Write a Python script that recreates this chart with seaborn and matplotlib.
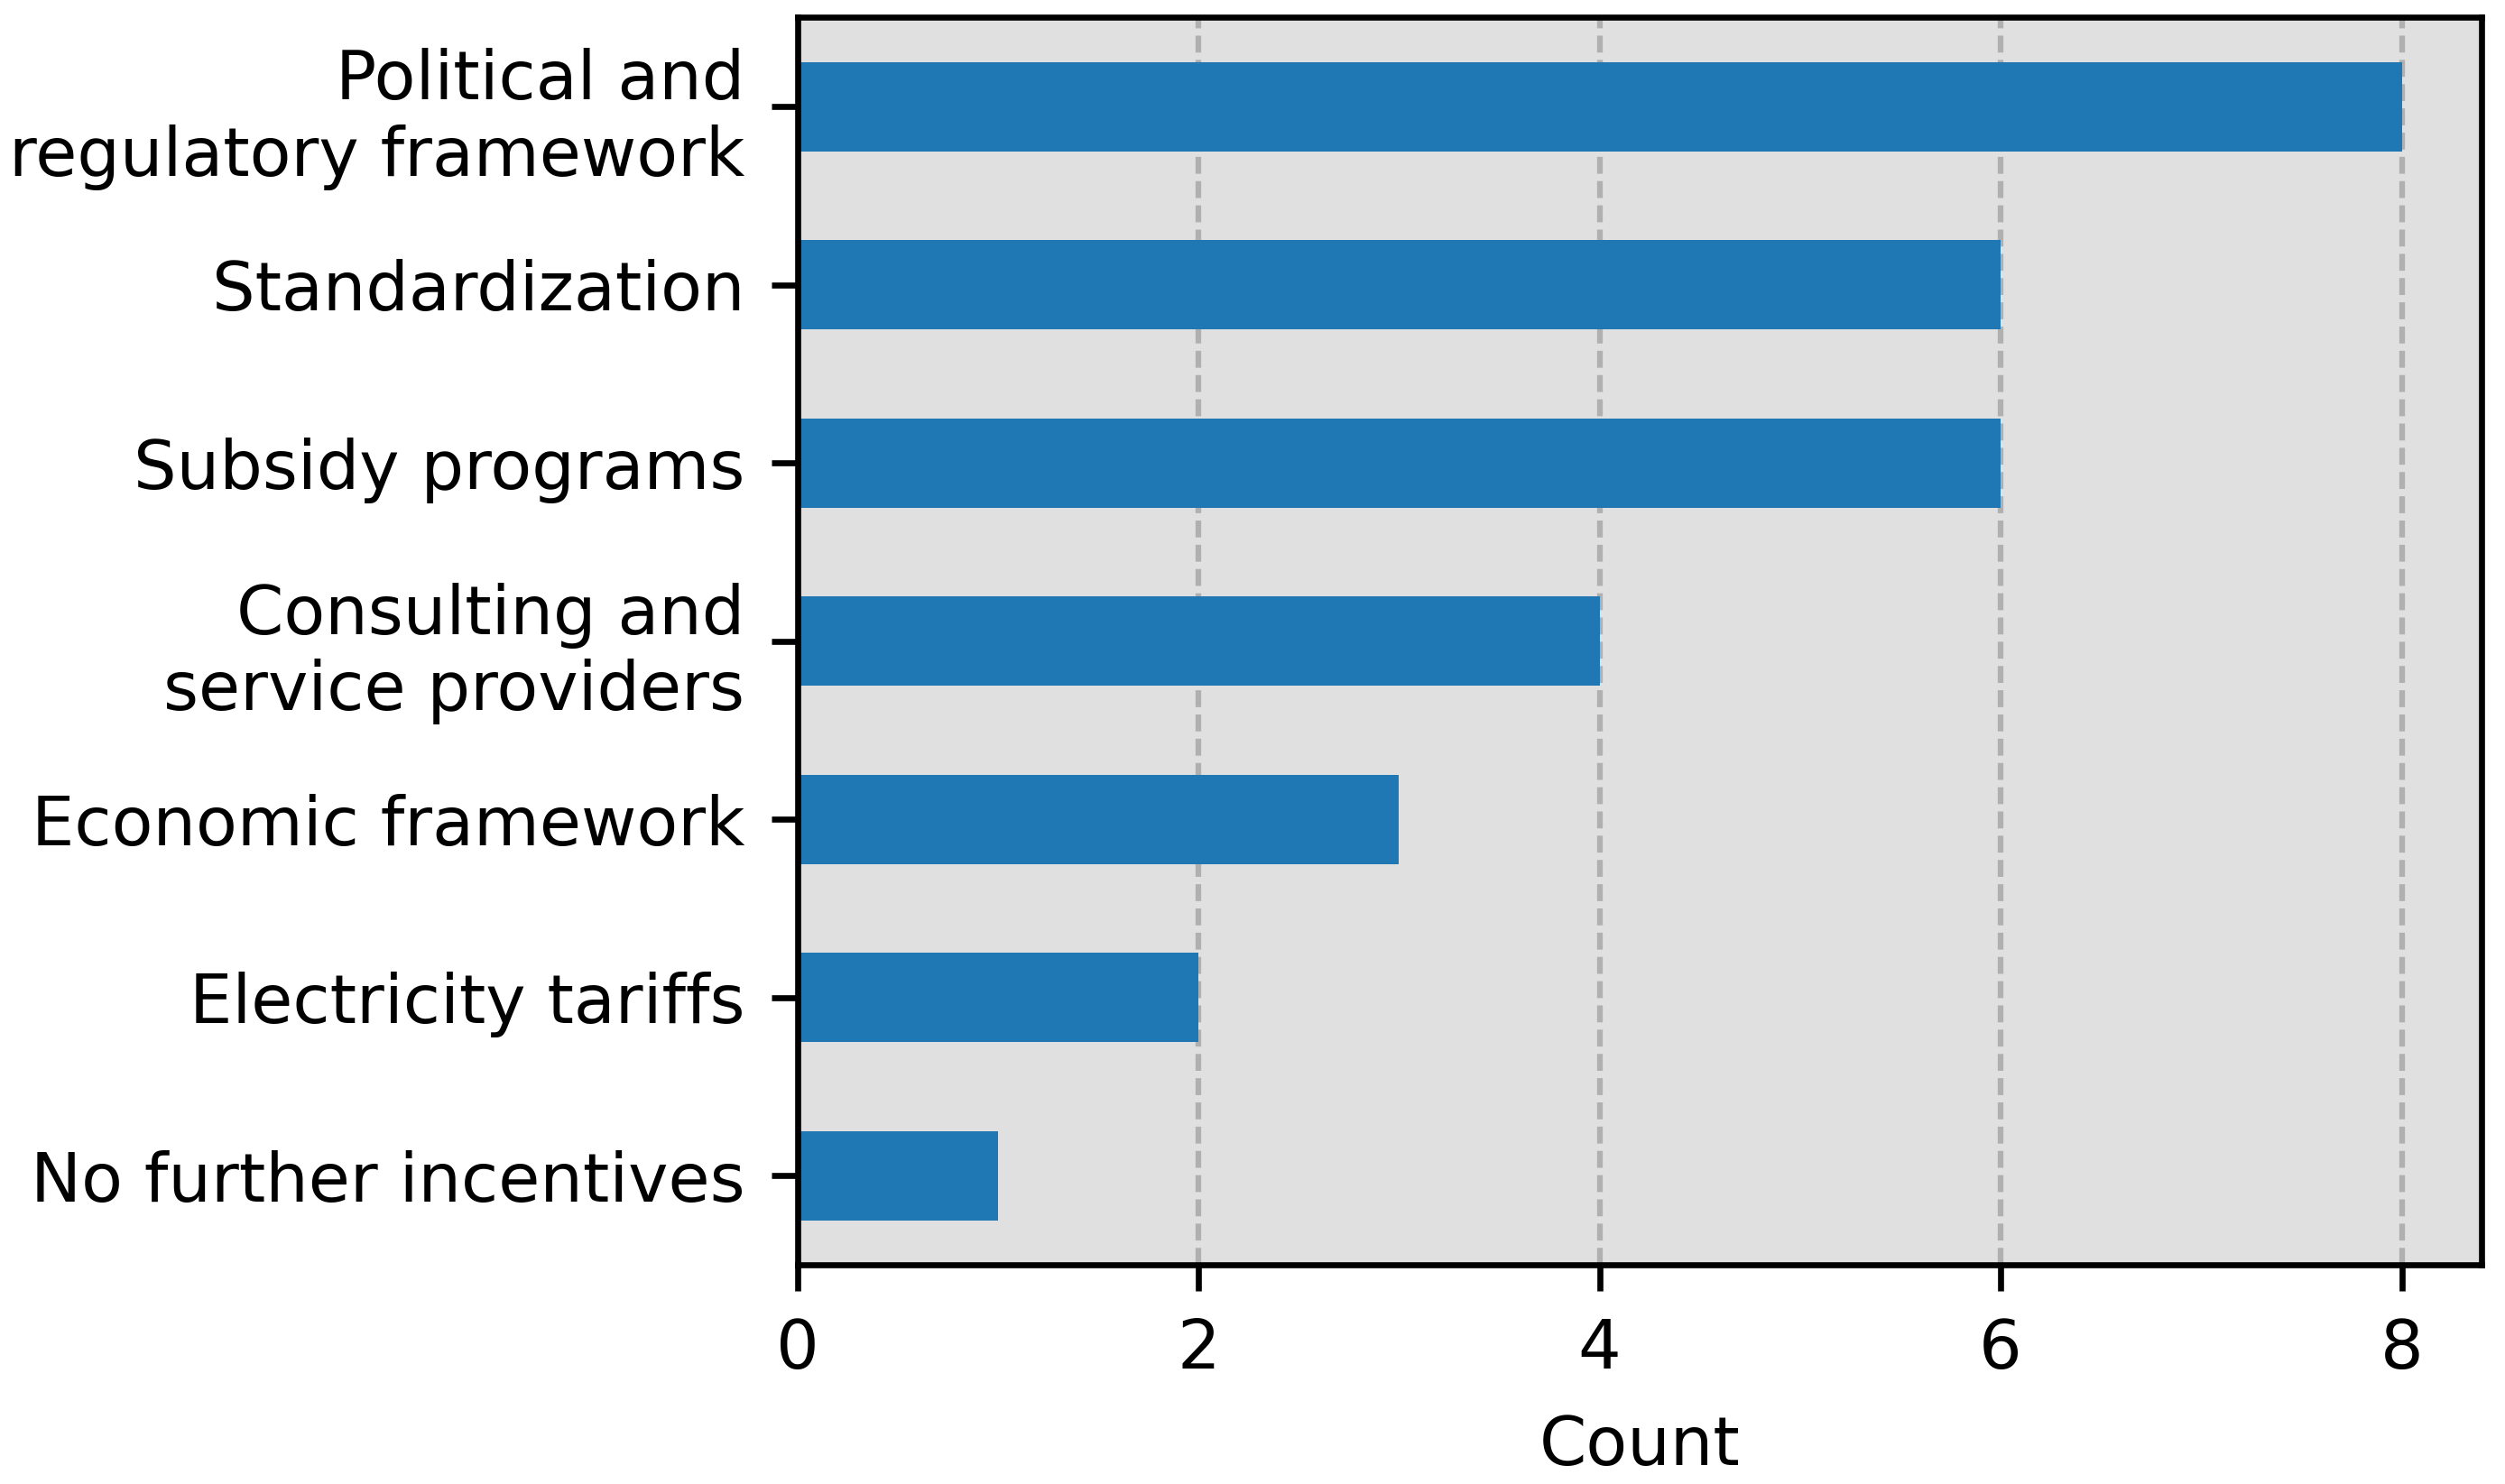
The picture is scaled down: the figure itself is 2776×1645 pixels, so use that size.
import matplotlib
matplotlib.use("Agg")
import matplotlib.pyplot as plt
import seaborn as sns
import pandas as pd

# ----- data -----
categorias = [
    'Political and\nregulatory framework',
    'Standardization',
    'Subsidy programs',
    'Consulting and\nservice providers',
    'Economic framework',
    'Electricity tariffs',
    'No further incentives',
]
conteos = [8, 6, 6, 4, 3, 2, 1]
xticks = [0, 2, 4, 6, 8]

df = pd.DataFrame({'Incentivo': categorias, 'Count': conteos})

sns.set_theme(style='ticks', rc={
    'axes.facecolor': '#e0e0e0',
    'axes.edgecolor': 'black',
    'axes.labelcolor': 'black',
    'text.color': 'black',
    'xtick.color': 'black',
    'ytick.color': 'black',
    'axes.linewidth': 1.6,
    'xtick.major.size': 7,
    'ytick.major.size': 7,
    'xtick.major.width': 1.6,
    'ytick.major.width': 1.6,
    'xtick.major.pad': 7,
    'ytick.major.pad': 7,
    'xtick.labelsize': 18,
    'ytick.labelsize': 18,
    'axes.labelsize': 18,
})
plt.rcParams['font.family'] = ['DejaVu Sans']

fig, ax = plt.subplots(figsize=(2776 / 300, 1645 / 300))
fig.subplots_adjust(left=0.3183, right=0.9908, top=0.98815, bottom=0.14772)

sns.barplot(data=df, x='Count', y='Incentivo', color='#1f77b4', saturation=1,
            width=0.5, orient='h', ax=ax, zorder=2, linewidth=0)

ax.set_xlim(0, 8.4)
ax.set_xticks(xticks)
ax.set_ylabel('')
ax.set_xlabel('Count', labelpad=8)
ax.grid(True, axis='x', color='#b0b0b0', linewidth=1.5, dashes=(3, 1.3), zorder=0)
ax.set_axisbelow(True)
for s in ax.spines.values():
    s.set_visible(True)
    s.set_zorder(3)

plt.savefig('out.png', dpi=300)
plt.close()
